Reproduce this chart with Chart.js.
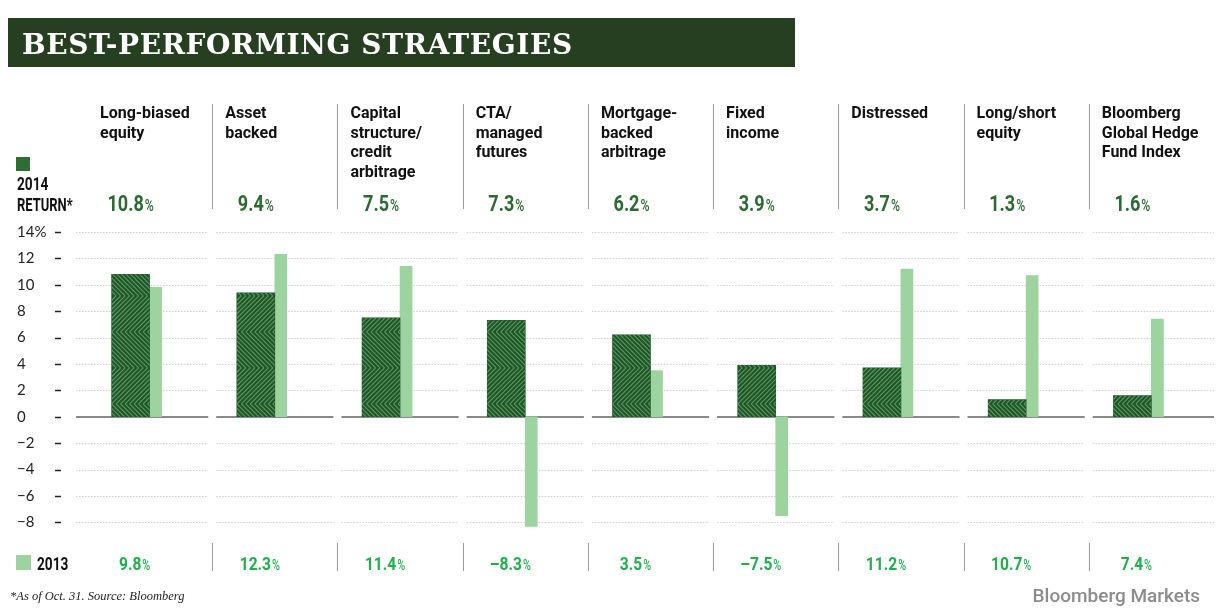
<!DOCTYPE html>
<html>
<head>
<meta charset="utf-8">
<script src="https://cdn.jsdelivr.net/npm/chart.js@4"></script>
<style>
  html, body { margin: 0; padding: 0; background: #fff; }
  canvas { display: block; }
</style>
</head>
<body>
<canvas id="chart" width="1222" height="612"></canvas>
<script>
const categories = [
  ["Long-biased", "equity"],
  ["Asset", "backed"],
  ["Capital", "structure/", "credit", "arbitrage"],
  ["CTA/", "managed", "futures"],
  ["Mortgage-", "backed", "arbitrage"],
  ["Fixed", "income"],
  ["Distressed"],
  ["Long/short", "equity"],
  ["Bloomberg", "Global Hedge", "Fund Index"]
];
const returns2014 = [10.8, 9.4, 7.5, 7.3, 6.2, 3.9, 3.7, 1.3, 1.6];
const returns2013 = [9.8, 12.3, 11.4, -8.3, 3.5, -7.5, 11.2, 10.7, 7.4];
const yTickValues = [-8, -6, -4, -2, 0, 2, 4, 6, 8, 10, 12, 14];

const DARK = "#1f5628";
const STRIPE = "#5b9863";
const LIGHT = "#9dd39f";
const TXT14 = "#2b6a30";
const TXT13 = "#1fb04b";
const SEP = "#9a9a9a";

function fmt(v) {
  return (v < 0 ? "\u2013" : "") + Math.abs(v).toFixed(1);
}

// condensed text: squeeze horizontally
function cText(ctx, text, x, y, font, sx, color, align) {
  ctx.save();
  ctx.font = font;
  ctx.fillStyle = color;
  ctx.textBaseline = "alphabetic";
  ctx.translate(x, y);
  ctx.scale(sx, 1);
  ctx.textAlign = align || "left";
  ctx.fillText(text, 0, 0);
  ctx.restore();
}

function valueText(ctx, v, cx, y, size, color) {
  const num = fmt(v), sx = 0.82;
  const f1 = "700 " + size + "px Roboto", f2 = "500 " + Math.round(size * 0.78) + "px Roboto";
  ctx.font = f1; const w1 = ctx.measureText(num).width * sx;
  ctx.font = f2; const w2 = ctx.measureText("%").width * 0.72;
  const x0 = cx - (w1 + w2 + 1) / 2;
  cText(ctx, num, x0, y, f1, sx, color);
  cText(ctx, "%", x0 + w1 + 1, y, f2, 0.72, color);
}

function colGeom(chart) {
  const xs = chart.scales.x;
  const w = (xs.right - xs.left) / categories.length;
  return { xs, w, start: i => xs.left + i * w };
}

const decor = {
  id: "decor",
  beforeDraw(chart) {
    const ctx = chart.ctx;
    const { xs, w, start } = colGeom(chart);

    // title bar
    ctx.save();
    ctx.fillStyle = "#253f20";
    ctx.fillRect(8, 18, 787, 49);
    ctx.font = "bold 28px 'DejaVu Serif'";
    ctx.fillStyle = "#fff";
    const title = "BEST-PERFORMING STRATEGIES";
    ctx.letterSpacing = "0px";
    const tw = ctx.measureText(title).width;
    ctx.letterSpacing = ((550 - tw) / (title.length - 1)).toFixed(2) + "px";
    ctx.textBaseline = "alphabetic";
    ctx.fillText(title, 22, 54);
    ctx.restore();

    // headers
    ctx.save();
    ctx.fillStyle = "#111";
    ctx.font = "700 16px Roboto";
    categories.forEach((lines, i) => {
      lines.forEach((t, k) => ctx.fillText(t, start(i) + 13, 118 + k * 19.5));
    });
    ctx.restore();

    // legend 2014
    ctx.fillStyle = "#2e6e35";
    ctx.fillRect(16, 157, 14, 14);
    cText(ctx, "2014", 17, 190, "700 18px Roboto", 0.76, "#111");
    cText(ctx, "RETURN*", 17, 211, "700 18px Roboto", 0.72, "#111");

    // legend 2013
    ctx.fillStyle = LIGHT;
    ctx.fillRect(16, 555, 15, 15);
    cText(ctx, "2013", 37, 570, "700 18px Roboto", 0.76, "#111");

    // separators
    ctx.save();
    ctx.strokeStyle = SEP;
    ctx.lineWidth = 1;
    for (let i = 1; i < categories.length; i++) {
      const x = Math.round(start(i)) + 0.5;
      ctx.beginPath();
      ctx.moveTo(x, 104); ctx.lineTo(x, 209);
      ctx.moveTo(x, 543); ctx.lineTo(x, 571);
      ctx.stroke();
    }
    ctx.restore();

    // y tick dashes
    const ys = chart.scales.y;
    ctx.save();
    ctx.strokeStyle = "#222";
    ctx.lineWidth = 1.5;
    ys.ticks.forEach(t => {
      const y = Math.round(ys.getPixelForValue(t.value)) + 0.5;
      ctx.beginPath(); ctx.moveTo(55, y); ctx.lineTo(61, y); ctx.stroke();
    });
    ctx.restore();

    // footer
    ctx.save();
    ctx.fillStyle = "#222";
    ctx.font = "italic 12.5px 'Liberation Serif'";
    ctx.fillText("*As of Oct. 31. Source: Bloomberg", 10, 600);
    ctx.fillStyle = "#8c8c8c";
    ctx.font = "500 19px Roboto";
    ctx.textAlign = "right";
    ctx.fillText("Bloomberg Markets", 1200, 602);
    ctx.restore();
  },
  beforeDatasetsDraw(chart) {
    const ctx = chart.ctx;
    const { xs, w, start } = colGeom(chart);
    const ys = chart.scales.y;
    const n = categories.length;
    ctx.save();
    ys.ticks.forEach(t => {
      const y = ys.getPixelForValue(t.value);
      const zero = t.value === 0;
      ctx.strokeStyle = zero ? "#8a8a8a" : "#cfcfcf";
      ctx.lineWidth = zero ? 2 : 1;
      ctx.setLineDash(zero ? [] : [1.5, 1.5]);
      const yy = zero ? Math.round(y) : Math.round(y) + 0.5;
      for (let i = 0; i < n; i++) {
        const a = i === 0 ? xs.left - 11 : start(i) + 4;
        const b = i === n - 1 ? xs.right : start(i + 1) - 4;
        ctx.beginPath(); ctx.moveTo(a, yy); ctx.lineTo(b, yy); ctx.stroke();
      }
    });
    ctx.restore();
  },
  afterDatasetDraw(chart, args) {
    if (args.index !== 0) return;
    const ctx = chart.ctx;
    const H = 36, s = 4.5;
    args.meta.data.forEach(bar => {
      const p = bar.getProps(["x", "y", "base", "width"], true);
      const left = p.x - p.width / 2, right = p.x + p.width / 2;
      const top = Math.min(p.y, p.base), bot = Math.max(p.y, p.base);
      ctx.save();
      ctx.beginPath(); ctx.rect(left, top, right - left, bot - top); ctx.clip();
      ctx.strokeStyle = STRIPE;
      ctx.lineWidth = 1.1;
      const seam0 = p.base - 13;
      for (let j = -8; j <= 1; j++) {
        const bTop = seam0 + j * H;
        if (bTop > bot || bTop + H < top) continue;
        const dir = (j % 2 === 0) ? 1 : -1;
        ctx.beginPath();
        for (let x = left - 2 * H; x <= right + 2 * H; x += s) {
          ctx.moveTo(x, bTop);
          ctx.lineTo(x + dir * H, bTop + H);
        }
        ctx.stroke();
      }
      ctx.restore();
    });
  },
  afterDraw(chart) {
    const ctx = chart.ctx;
    const dark = chart.getDatasetMeta(0).data;
    dark.forEach((bar, i) => {
      valueText(ctx, returns2014[i], bar.x, 211, 22, TXT14);
      valueText(ctx, returns2013[i], bar.x + 4, 570, 19, TXT13);
    });
  }
};

new Chart(document.getElementById("chart").getContext("2d"), {
  type: "bar",
  data: {
    labels: categories.map(c => c.join(" ")),
    datasets: [
      { label: "2014", data: returns2014, backgroundColor: DARK, barThickness: 38 },
      { label: "2013", data: returns2013, backgroundColor: LIGHT, barThickness: 12 }
    ]
  },
  options: {
    responsive: false,
    animation: false,
    devicePixelRatio: 1,
    layout: { padding: { left: 17, right: 8, top: 232, bottom: 85 } },
    plugins: { legend: { display: false }, tooltip: { enabled: false }, title: { display: false } },
    scales: {
      x: { display: false, offset: true },
      y: {
        min: -8.35,
        max: 14,
        grid: { display: false, drawTicks: false },
        border: { display: false },
        afterBuildTicks: scale => { scale.ticks = yTickValues.map(v => ({ value: v })); },
        afterFit: scale => { scale.width = 70; },
        ticks: {
          crossAlign: "far",
          color: "#222",
          font: { family: "Lato", size: 15 },
          callback: v => v === 14 ? "14%" : (v < 0 ? "\u2212" + Math.abs(v) : String(v))
        }
      }
    }
  },
  plugins: [decor]
});
</script>
</body>
</html>
